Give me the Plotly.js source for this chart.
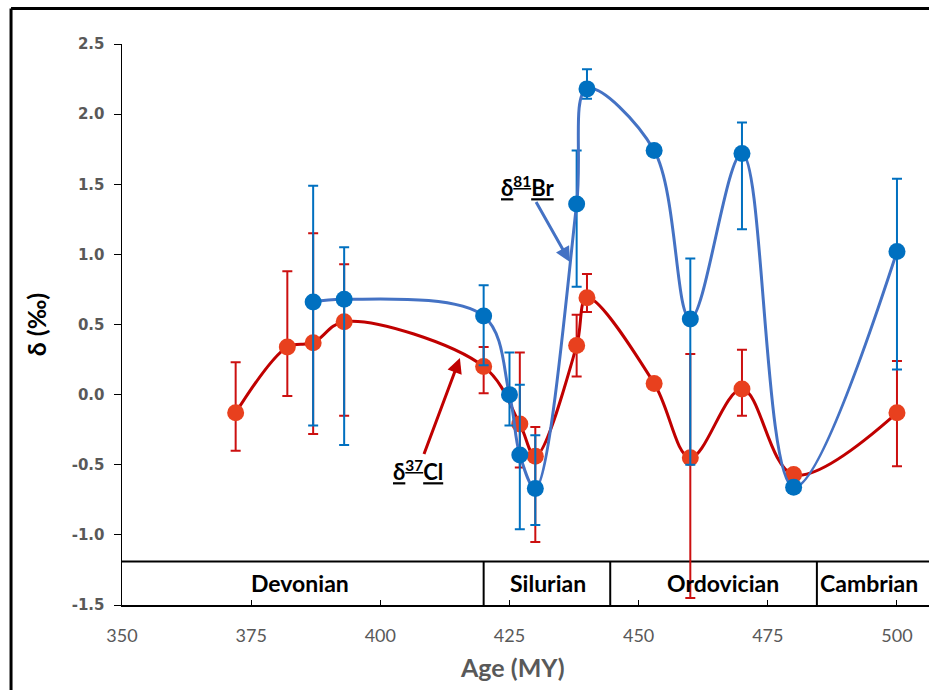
<!DOCTYPE html>
<html>
<head>
<meta charset="utf-8">
<script src="https://cdn.plot.ly/plotly-3.0.1.min.js"></script>
<style>
html,body{margin:0;padding:0;background:#fff;}
#chart{width:929px;height:690px;}
</style>
</head>
<body>
<div id="chart"></div>
<script>
// δ37Cl series
const clAge = [372, 382, 387, 393, 420, 427, 430, 438, 440, 453, 460, 470, 480, 500];
const clVal = [-0.13, 0.34, 0.37, 0.52, 0.20, -0.21, -0.44, 0.35, 0.69, 0.08, -0.45, 0.04, -0.57, -0.13];
const clErrUp = [0.36, 0.54, 0.78, 0.41, 0.14, 0.51, 0.21, 0.22, 0.17, 0, 0.74, 0.28, 0, 0.37];
const clErrDown = [0.27, 0.35, 0.65, 0.67, 0.19, 0.31, 0.61, 0.22, 0.10, 0, 1.0, 0.19, 0, 0.38];

// δ81Br series
const brAge = [387, 393, 420, 425, 427, 430, 438, 440, 453, 460, 470, 480, 500];
const brVal = [0.66, 0.68, 0.56, 0.00, -0.43, -0.67, 1.36, 2.18, 1.74, 0.54, 1.72, -0.66, 1.02];
const brErrUp = [0.83, 0.37, 0.22, 0.30, 0.50, 0.38, 0.38, 0.14, 0, 0.43, 0.22, 0, 0.52];
const brErrDown = [0.88, 1.04, 0.35, 0.22, 0.53, 0.26, 0.59, 0.07, 0, 1.04, 0.54, 0, 0.84];

// geological periods band
const periodNames = ["Devonian", "Silurian", "Ordovician", "Cambrian"];
const periodLabelAge = [384.4, 432.4, 466.3, 494.6];
const periodBounds = [420, 444.5, 484.5];
const bandTop = -1.19;
const bandLabelY = -1.345;

const xTicks = [350, 375, 400, 425, 450, 475, 500];
const yTicks = [-1.5, -1.0, -0.5, 0.0, 0.5, 1.0, 1.5, 2.0, 2.5];
const yTickText = yTicks.map(v => v.toFixed(1));

const xMax = 506.2;

const traces = [
  {
    x: clAge, y: clVal, type: 'scatter', mode: 'lines+markers', name: 'δ37Cl',
    line: {color: '#C00000', width: 3, shape: 'spline', smoothing: 1},
    marker: {color: '#E8401E', size: 17},
    error_y: {type: 'data', symmetric: false, array: clErrUp, arrayminus: clErrDown,
              color: '#CC1010', thickness: 2, width: 5}
  },
  {
    x: brAge, y: brVal, type: 'scatter', mode: 'lines+markers', name: 'δ81Br',
    line: {color: '#4472C4', width: 3, shape: 'spline', smoothing: 1},
    marker: {color: '#0070C0', size: 17},
    error_y: {type: 'data', symmetric: false, array: brErrUp, arrayminus: brErrDown,
              color: '#0070C0', thickness: 2, width: 5}
  }
];

const shapes = [
  {type: 'line', xref: 'x', yref: 'y', x0: 350, x1: xMax, y0: bandTop, y1: bandTop,
   line: {color: '#000', width: 2}, layer: 'below'},
  // outer frame
  {type: 'line', xref: 'paper', yref: 'paper', x0: -0.1375, x1: 1.01, y0: 1.0633, y1: 1.0633,
   line: {color: '#000', width: 3}},
  {type: 'line', xref: 'paper', yref: 'paper', x0: -0.1375, x1: -0.1375, y0: 1.0633, y1: -0.16,
   line: {color: '#000', width: 3}}
];
periodBounds.forEach(b => shapes.push({type: 'line', xref: 'x', yref: 'y', x0: b, x1: b,
  y0: -1.5, y1: bandTop, line: {color: '#000', width: 2}, layer: 'below'}));

const annotations = periodNames.map((n, i) => ({
  x: periodLabelAge[i], y: bandLabelY, xref: 'x', yref: 'y', text: '<b>' + n + '</b>',
  showarrow: false, font: {family: 'Lato, sans-serif', size: 23, color: '#000'}
}));
annotations.push({
  x: 436.7, y: 0.946, xref: 'x', yref: 'y', ax: 428.4, ay: 1.487, axref: 'x', ayref: 'y',
  text: '<b><u>δ<sup>81</sup>Br</u></b>', showarrow: true, arrowhead: 2, arrowsize: 1,
  arrowwidth: 3, arrowcolor: '#4472C4', font: {family: 'Lato, sans-serif', size: 22, color: '#000'}
});
annotations.push({
  x: 415.4, y: 0.261, xref: 'x', yref: 'y', ax: 407.3, ay: -0.538, axref: 'x', ayref: 'y',
  text: '<b><u>δ<sup>37</sup>Cl</u></b>', showarrow: true, arrowhead: 2, arrowsize: 1,
  arrowwidth: 3, arrowcolor: '#C00000', font: {family: 'Lato, sans-serif', size: 22, color: '#000'}
});
// x-axis title placed as in the reference
annotations.push({
  x: 0.4839, y: -0.1114, xref: 'paper', yref: 'paper', yanchor: 'middle', xanchor: 'center',
  text: '<b>Age (MY)</b>', showarrow: false,
  font: {family: 'Lato, sans-serif', size: 25, color: '#595959'}
});

const layout = {
  width: 929, height: 690,
  margin: {l: 122, r: 0, t: 44, b: 85},
  paper_bgcolor: '#fff', plot_bgcolor: '#fff',
  showlegend: false,
  xaxis: {
    range: [350, xMax], tickvals: xTicks, ticktext: xTicks.map(String),
    ticks: 'inside', ticklen: 5, tickcolor: '#000', tickwidth: 1,
    showline: true, linecolor: '#000', linewidth: 1.5, showgrid: false, zeroline: false,
    tickfont: {family: 'Lato, sans-serif', size: 18, color: '#595959'},
    ticklabelstandoff: 14
  },
  yaxis: {
    range: [-1.5, 2.5], tickvals: yTicks, ticktext: yTickText,
    ticks: 'outside', ticklen: 7, tickcolor: '#000', tickwidth: 1,
    showline: true, linecolor: '#000', linewidth: 1.5, showgrid: false, zeroline: false,
    tickfont: {family: 'DejaVu Sans, sans-serif', size: 15, color: '#595959', weight: 'bold'},
    ticklabelstandoff: 6,
    title: {text: '<b>δ (‰)</b>', font: {family: 'Lato, sans-serif', size: 25, color: '#000'}, standoff: 18}
  },
  shapes: shapes,
  annotations: annotations
};

Plotly.newPlot('chart', traces, layout, {displayModeBar: false, staticPlot: true});
</script>
</body>
</html>
